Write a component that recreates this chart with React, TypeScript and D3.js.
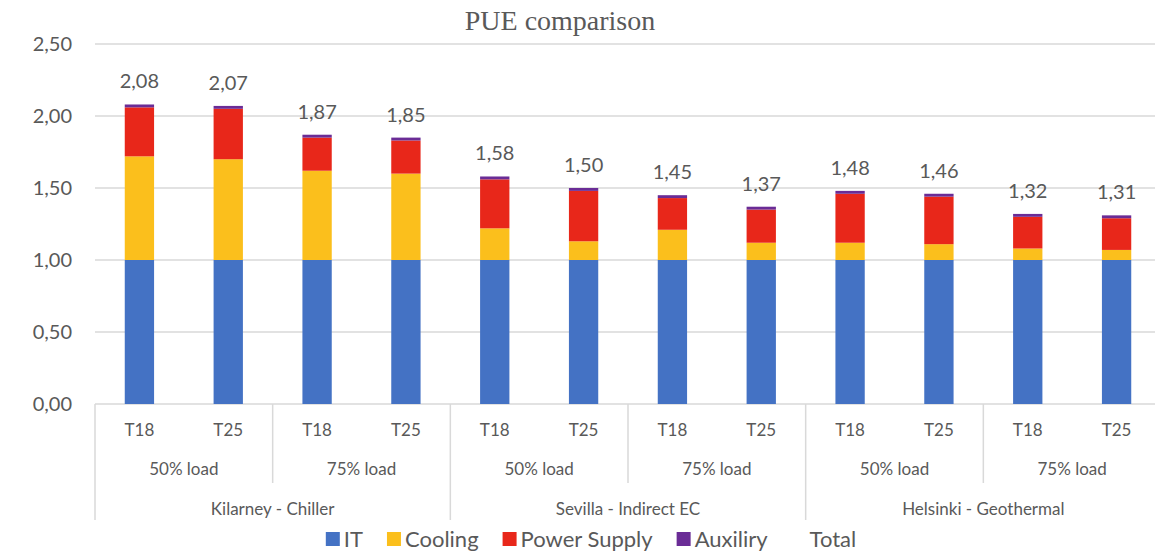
import { useEffect, useRef } from 'react'
import * as d3 from 'd3'

// multi-level categories
const temps = ['T18', 'T25']
const loads = ['50% load', '75% load']
const locations = ['Kilarney - Chiller', 'Sevilla - Indirect EC', 'Helsinki - Geothermal']

// stacked series (one value per bar, left to right)
const it = [1, 1, 1, 1, 1, 1, 1, 1, 1, 1, 1, 1]
const cooling = [0.72, 0.7, 0.62, 0.6, 0.22, 0.13, 0.21, 0.12, 0.12, 0.11, 0.08, 0.07]
const powerSupply = [0.34, 0.35, 0.23, 0.23, 0.34, 0.35, 0.22, 0.23, 0.34, 0.33, 0.22, 0.22]
const auxiliary = [0.02, 0.02, 0.02, 0.02, 0.02, 0.02, 0.02, 0.02, 0.02, 0.02, 0.02, 0.02]
const total = [2.08, 2.07, 1.87, 1.85, 1.58, 1.5, 1.45, 1.37, 1.48, 1.46, 1.32, 1.31]

const yTicks = [0, 0.5, 1, 1.5, 2, 2.5]

const seriesNames = ['IT', 'Cooling', 'Power Supply', 'Auxiliry', 'Total']
const seriesColors = ['#4472c4', '#fbbf1c', '#e8271a', '#6a2c96', 'none']

const width = 1155
const height = 552
const fmt = (v: number) => v.toFixed(2).replace('.', ',')

export default function App() {
  const svgRef = useRef<SVGSVGElement>(null)

  useEffect(() => {
    if (!svgRef.current) return
    const svg = d3.select(svgRef.current)
    svg.selectAll('*').remove()

    const font = 'Lato, "Open Sans", sans-serif'
    const textColor = '#595959'
    const gridColor = '#d9d9d9'

    // bar keys from the category levels
    const keys: string[] = []
    locations.forEach(loc => loads.forEach(ld => temps.forEach(t => keys.push(`${loc}|${ld}|${t}`))))

    const x = d3.scaleBand<string>()
      .domain(keys)
      .range([95, 1161])
      .paddingInner(0.67)
      .paddingOuter(0.335)
    const step = x.step()
    const plotLeft = 95
    const plotRight = 1161

    const y = d3.scaleLinear().domain([0, 2.5]).range([404, 44])

    // title
    svg.append('text')
      .attr('x', 560)
      .attr('y', 30)
      .attr('text-anchor', 'middle')
      .attr('font-family', '"Liberation Serif", "DejaVu Serif", serif')
      .attr('font-size', 28)
      .attr('fill', textColor)
      .text('PUE comparison')

    // gridlines + y labels
    yTicks.forEach(t => {
      svg.append('line')
        .attr('x1', plotLeft)
        .attr('x2', plotRight)
        .attr('y1', y(t))
        .attr('y2', y(t))
        .attr('stroke', gridColor)
        .attr('stroke-width', 1.5)
      svg.append('text')
        .attr('x', 72)
        .attr('y', y(t))
        .attr('dy', '0.36em')
        .attr('text-anchor', 'end')
        .attr('font-family', font)
        .attr('font-size', 20)
        .attr('fill', textColor)
        .text(fmt(t))
    })

    // stacked bars
    const rows = keys.map((k, i) => ({
      key: k,
      IT: it[i],
      Cooling: cooling[i],
      'Power Supply': powerSupply[i],
      Auxiliry: auxiliary[i],
    }))
    const stack = d3.stack<any>().keys(seriesNames.slice(0, 4))(rows)
    stack.forEach((layer, si) => {
      svg.append('g')
        .attr('fill', seriesColors[si])
        .selectAll('rect')
        .data(layer)
        .join('rect')
        .attr('x', d => x(d.data.key)!)
        .attr('width', x.bandwidth())
        .attr('y', d => y(d[1]))
        .attr('height', d => y(d[0]) - y(d[1]))
    })

    // total labels
    svg.append('g')
      .selectAll('text')
      .data(keys)
      .join('text')
      .attr('x', d => x(d)! + x.bandwidth() / 2)
      .attr('y', (d, i) => y(total[i]) - 16)
      .attr('text-anchor', 'middle')
      .attr('font-family', font)
      .attr('font-size', 20)
      .attr('fill', textColor)
      .text((d, i) => fmt(total[i]))

    // category axis
    const axisY = y(0)
    const cellLeft = (i: number) => plotLeft + i * step
    const nLoadGroups = locations.length * loads.length
    const perLoc = loads.length * temps.length

    for (let g = 0; g <= nLoadGroups; g++) {
      const xi = cellLeft(g * temps.length)
      const isLoc = g % loads.length === 0
      svg.append('line')
        .attr('x1', xi).attr('x2', xi)
        .attr('y1', axisY).attr('y2', isLoc ? 520 : 483)
        .attr('stroke', gridColor)
        .attr('stroke-width', 1.5)
    }

    keys.forEach((k, i) => {
      svg.append('text')
        .attr('x', x(k)! + x.bandwidth() / 2)
        .attr('y', 430)
        .attr('dy', '0.36em')
        .attr('text-anchor', 'middle')
        .attr('font-family', font)
        .attr('font-size', 17)
        .attr('fill', textColor)
        .text(temps[i % temps.length])
    })
    for (let g = 0; g < nLoadGroups; g++) {
      svg.append('text')
        .attr('x', cellLeft(g * temps.length) + step * temps.length / 2)
        .attr('y', 469)
        .attr('dy', '0.36em')
        .attr('text-anchor', 'middle')
        .attr('font-family', font)
        .attr('font-size', 17)
        .attr('fill', textColor)
        .text(loads[g % loads.length])
    }
    locations.forEach((loc, li) => {
      svg.append('text')
        .attr('x', cellLeft(li * perLoc) + step * perLoc / 2)
        .attr('y', 509)
        .attr('dy', '0.36em')
        .attr('text-anchor', 'middle')
        .attr('font-family', font)
        .attr('font-size', 17)
        .attr('fill', textColor)
        .text(loc)
    })

    // legend
    const legend = svg.append('g')
    let lx = 0
    seriesNames.forEach((name, i) => {
      if (seriesColors[i] !== 'none') {
        legend.append('rect')
          .attr('x', lx)
          .attr('y', 532)
          .attr('width', 14)
          .attr('height', 14)
          .attr('fill', seriesColors[i])
      }
      const t = legend.append('text')
        .attr('x', lx + 18)
        .attr('y', 539)
        .attr('dy', '0.36em')
        .attr('font-family', font)
        .attr('font-size', 22)
        .attr('fill', textColor)
        .text(name)
      const w = (t.node() as SVGTextElement).getComputedTextLength()
      lx += 18 + w + 24
    })
    const legendW = lx - 24
    legend.attr('transform', `translate(${591 - legendW / 2}, 0)`)
  }, [])

  return (
    <svg
      ref={svgRef}
      width={width}
      height={height}
      style={{ position: 'absolute', left: 0, top: 0, background: '#fff' }}
    />
  )
}
